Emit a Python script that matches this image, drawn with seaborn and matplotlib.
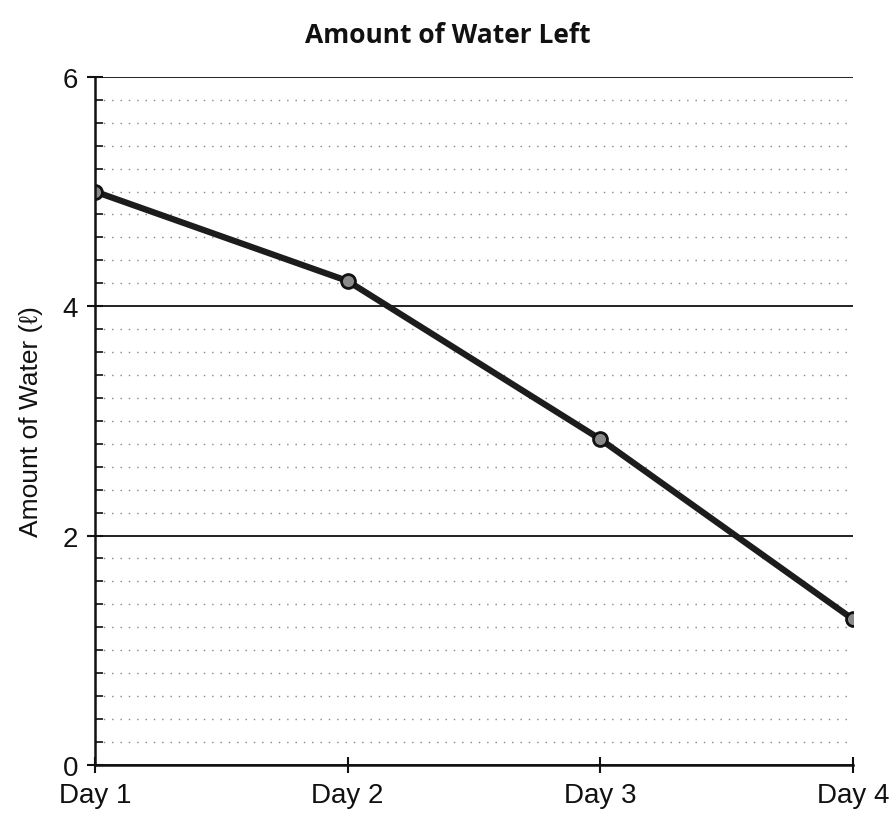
import numpy as np, pandas as pd
import matplotlib
matplotlib.use("Agg")
import matplotlib.pyplot as plt
import seaborn as sns
from matplotlib.ticker import MultipleLocator

days = ["Day 1", "Day 2", "Day 3", "Day 4"]
water = [5.0, 4.22, 2.84, 1.27]
y_ticks = [0, 2, 4, 6]

sns.set_style("white")
plt.rcParams['font.family'] = ['Liberation Sans', 'DejaVu Sans']

df = pd.DataFrame({"day": days, "water": water})

fig = plt.figure(figsize=(8.96, 8.2), dpi=100)
ax = fig.add_axes([0.106, 0.066, 0.846, 0.839])

# faint dotted minor grid (every 0.2)
ax.yaxis.set_minor_locator(MultipleLocator(0.2))
ax.grid(which="minor", axis="y", color="#666666", linestyle=(0, (1, 5)), linewidth=1.0, alpha=0.8)
ax.grid(which="major", axis="y", color="#111111", linewidth=1.3)
ax.set_axisbelow(True)

sns.lineplot(data=df, x="day", y="water", ax=ax, color="#1c1c1c", linewidth=4.5,
             marker="o", markersize=10, markerfacecolor="#8a8a8a",
             markeredgecolor="#111111", markeredgewidth=2, sort=False)

ax.set_xlim(0, 3)
ax.set_ylim(0, 6)
ax.set_yticks(y_ticks)
ax.set_xticks(range(len(days)))
ax.set_xticklabels(days)

for s in ["top", "right"]:
    ax.spines[s].set_visible(False)
for s in ["left", "bottom"]:
    ax.spines[s].set_color("#111111")
    ax.spines[s].set_linewidth(1.8)

ax.tick_params(axis="both", which="major", direction="inout", length=12, width=1.5,
               labelsize=20, color="#111111", labelcolor="#111111", left=True, bottom=True, pad=6)
ax.tick_params(axis="y", which="minor", direction="in", length=6, width=1.2, left=True, color="#111111")

ax.set_xlabel("")
ax.set_ylabel("Amount of Water (ℓ)", fontsize=19, labelpad=14, color="#111111")
fig.text(0.5, 0.957, "Amount of Water Left", ha="center", va="center", color="#111111",
         fontsize=19, fontweight="bold", family=["Open Sans", "DejaVu Sans"])

fig.savefig("out.png", dpi=100)
